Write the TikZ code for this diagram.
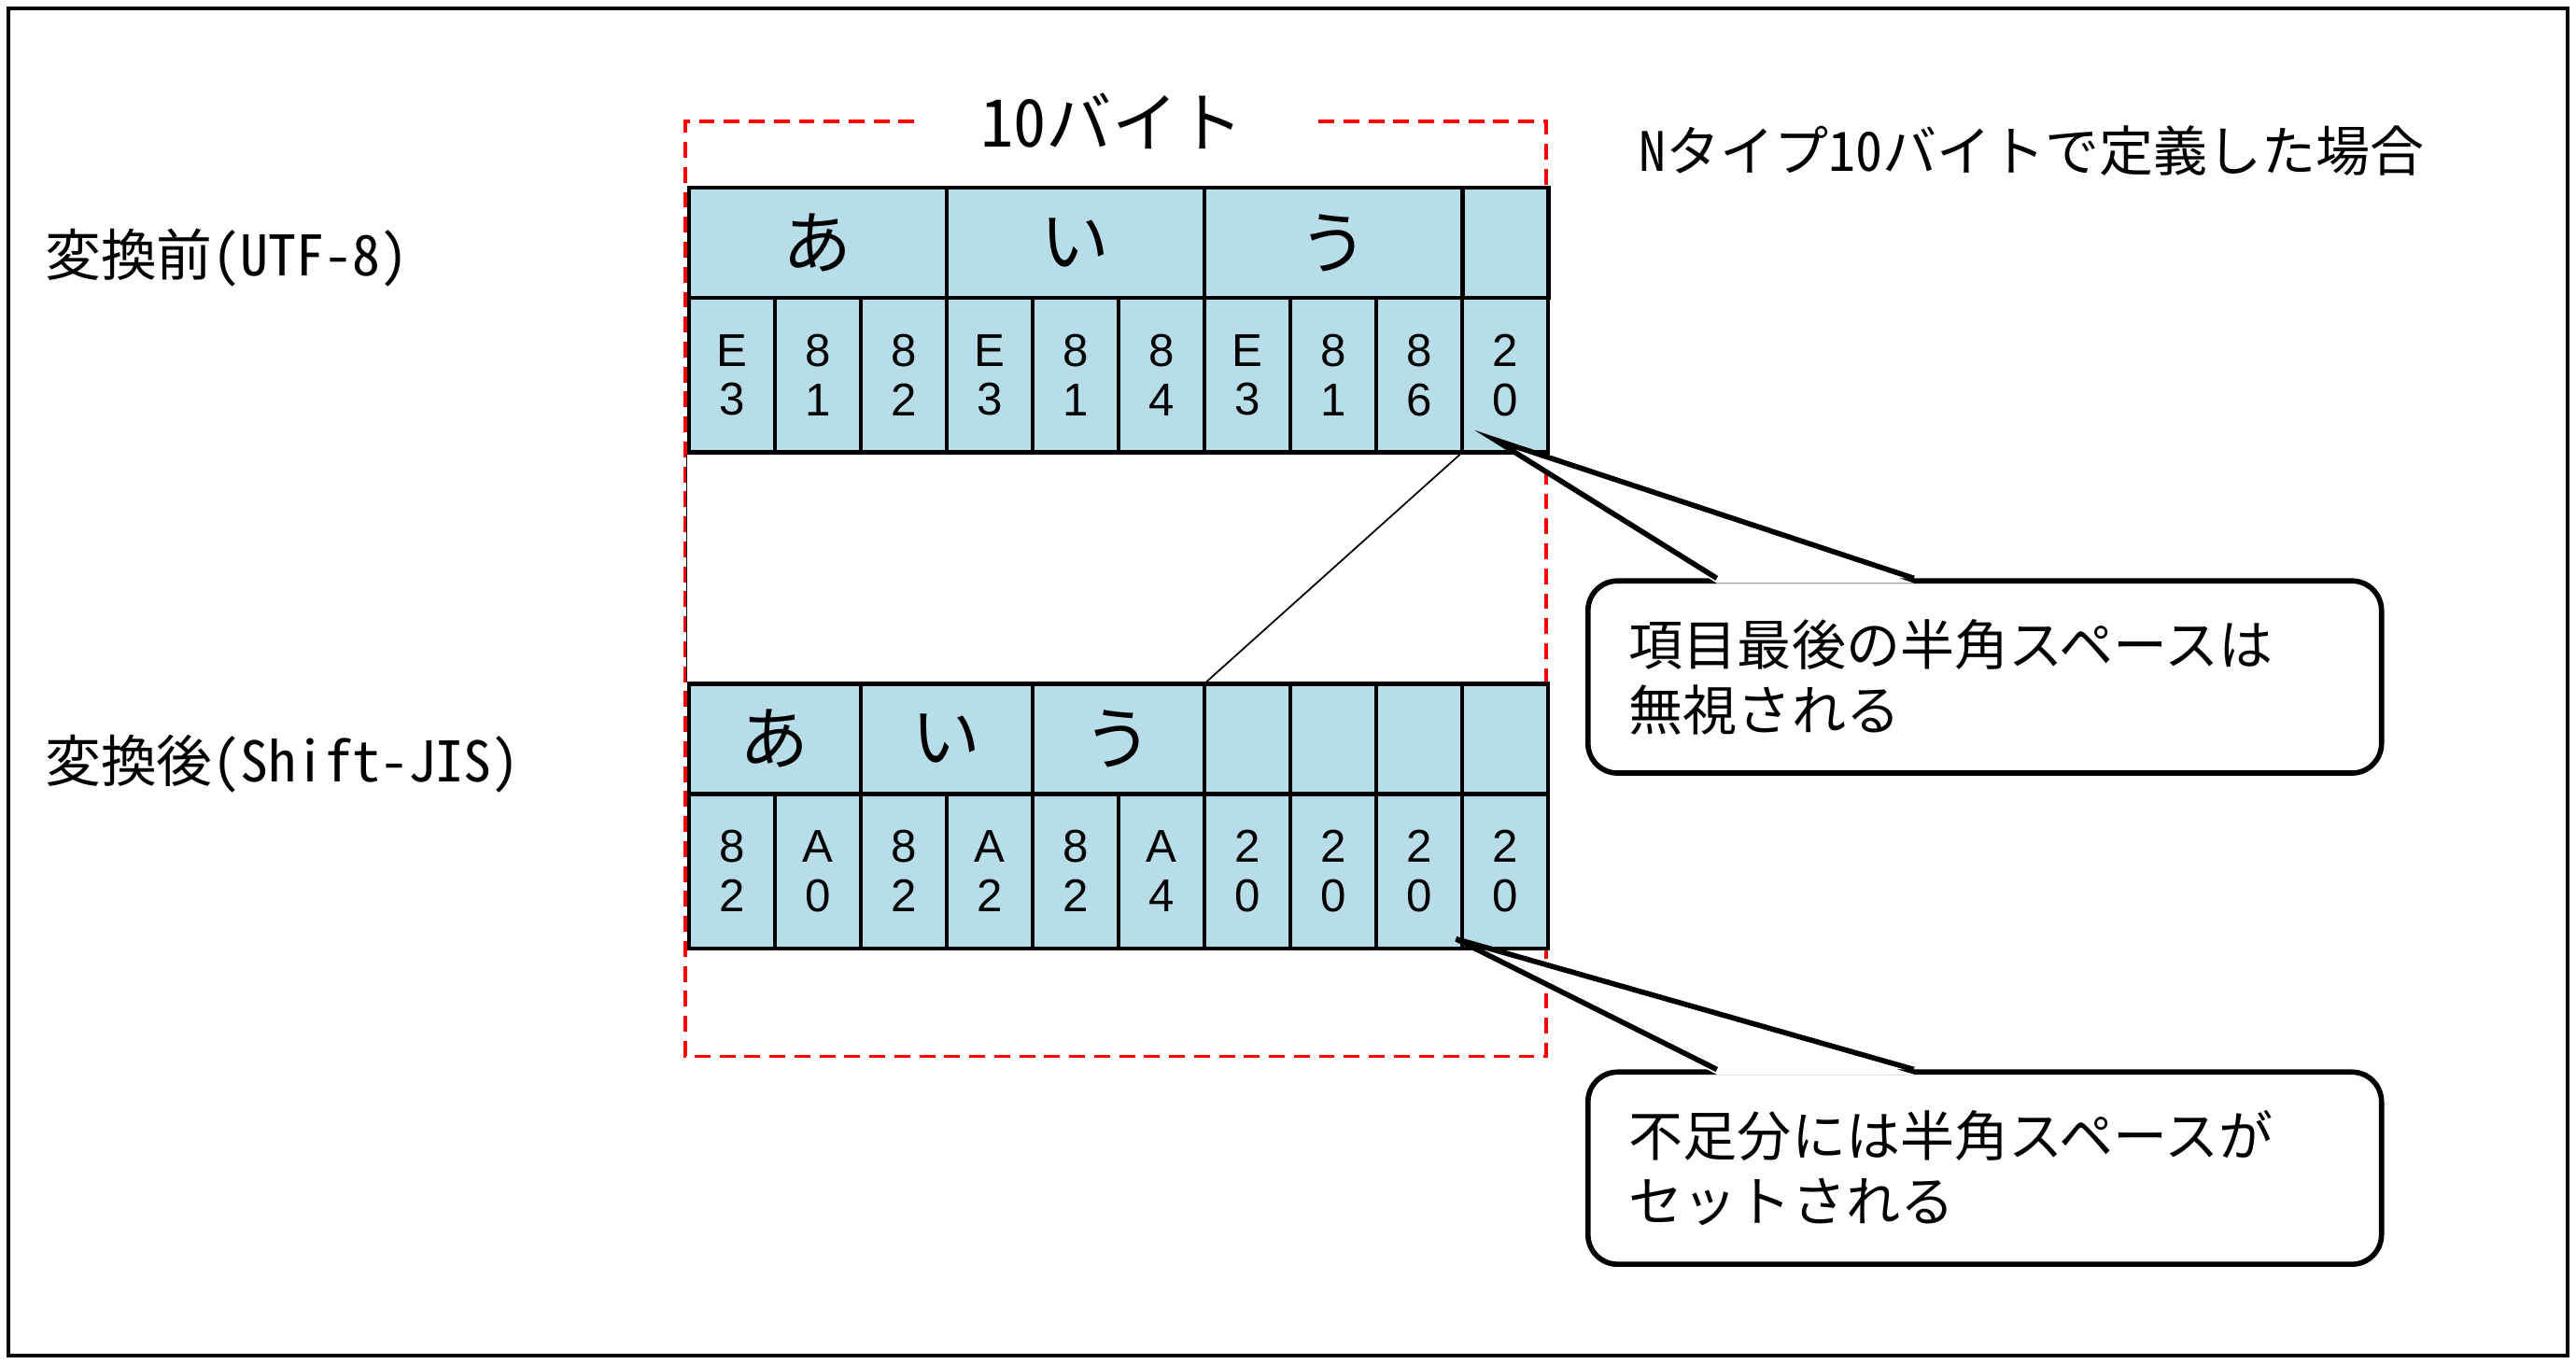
\documentclass[tikz,border=0pt]{standalone}
\usepackage{fontspec}
\setmainfont{Liberation Sans}
\newfontfamily\jpfont{Noto Sans CJK JP}[RawFeature=+hwid]
\usepackage{tikz}
\usetikzlibrary{positioning,calc}
\definecolor{cellblue}{HTML}{B7DEE8}

\begin{document}
\begin{tikzpicture}[x=0.5pt, y=-0.5pt,
    every node/.style={inner sep=0pt},
    bytecell/.style={draw, line width=1.3pt, fill=cellblue, minimum width=26.15pt,
        minimum height=47pt, anchor=north west, align=center,
        font=\fontsize{14}{15}\selectfont},
    charcell/.style={draw, line width=1.3pt, fill=cellblue, minimum width=#1,
        minimum height=33.5pt, anchor=north west, font=\jpfont\fontsize{21}{21}\selectfont},
    caption/.style={anchor=west, font=\jpfont\fontsize{17}{20}\selectfont},
    balloon/.style={draw, line width=1.6pt, fill=white, rounded corners=9pt,
        minimum width=241.5pt, minimum height=58.5pt, text width=216.5pt,
        inner xsep=12.5pt, anchor=north west, align=left,
        font=\jpfont\fontsize{16.5}{20}\selectfont},
    pointer/.style={line width=1.6pt, line join=miter},
    bytebox/.style={draw=red, line width=1pt, dash pattern=on 4.8pt off 2.8pt}
]
\useasboundingbox (0,0) rectangle (1568,830);
\draw[line width=1.1pt] (5,5) rectangle (1563,825);

% labels
\node[caption] (before) at (27,157) {変換前(UTF-8)};
\node[caption] (after) at (27,465) {変換後(Shift-JIS)};
\node[caption, font=\jpfont\fontsize{16.5}{20}\selectfont] (ntype) at (997,92) {Nタイプ10バイトで定義した場合};

% 10 byte frame
\node[font=\jpfont\fontsize{20}{20}\selectfont, inner xsep=20pt] (title) at (677,74) {10バイト};
\draw[bytebox] (title.west) -| (417,643) -| (941,74) -- (title.east);

% UTF-8
\foreach \i/\hi/\lo in {0/E/3,1/8/1,2/8/2,3/E/3,4/8/1,5/8/4,6/E/3,7/8/1,8/8/6,9/2/0}
    \node[bytecell] (u\i) at (418+52.3*\i,180) {\hi\\\lo};
\foreach \j/\ch in {0/あ,1/い,2/う}
    \node[charcell=78.45pt] (uc\j) at (418+156.9*\j,113) {\ch};
\node[charcell=26.15pt] (uc3) at (889,113) {};

% Shift-JIS
\foreach \i/\hi/\lo in {0/8/2,1/A/0,2/8/2,3/A/2,4/8/2,5/A/4,6/2/0,7/2/0,8/2/0,9/2/0}
    \node[bytecell] (s\i) at (418+52.3*\i,482) {\hi\\\lo};
\foreach \j/\ch in {0/あ,1/い,2/う}
    \node[charcell=52.3pt] (sc\j) at (418+104.6*\j,415) {\ch};
\foreach \j in {3,...,6}
    \node[charcell=26.15pt] (sc\j) at (731.8+52.3*\j-156.9,415) {};

\draw[line width=0.5pt] (u0.south west) -- (sc0.north west);
\draw[line width=0.5pt] (u9.south west) -- (sc2.north east);

% callouts
\node[balloon] (note1) at (965,352) {項目最後の半角スペースは\\無視される};
\coordinate (tip1) at ($(u9.south west)+(21,-9)$);
\fill[white] ($(note1.north west)+(80,3)$) -- (tip1) -- ($(note1.north west)+(200,3)$) -- cycle;
\draw[pointer] ($(note1.north west)+(80,0)$) -- (tip1) -- ($(note1.north west)+(200,0)$);

\node[balloon] (note2) at (965,651) {不足分には半角スペースが\\セットされる};
\coordinate (tip2) at ($(s8.south east)+(-5,-7)$);
\fill[white] ($(note2.north west)+(80,3)$) -- (tip2) -- ($(note2.north west)+(200,3)$) -- cycle;
\draw[pointer] ($(note2.north west)+(80,0)$) -- (tip2) -- ($(note2.north west)+(200,0)$);
\end{tikzpicture}
\end{document}
